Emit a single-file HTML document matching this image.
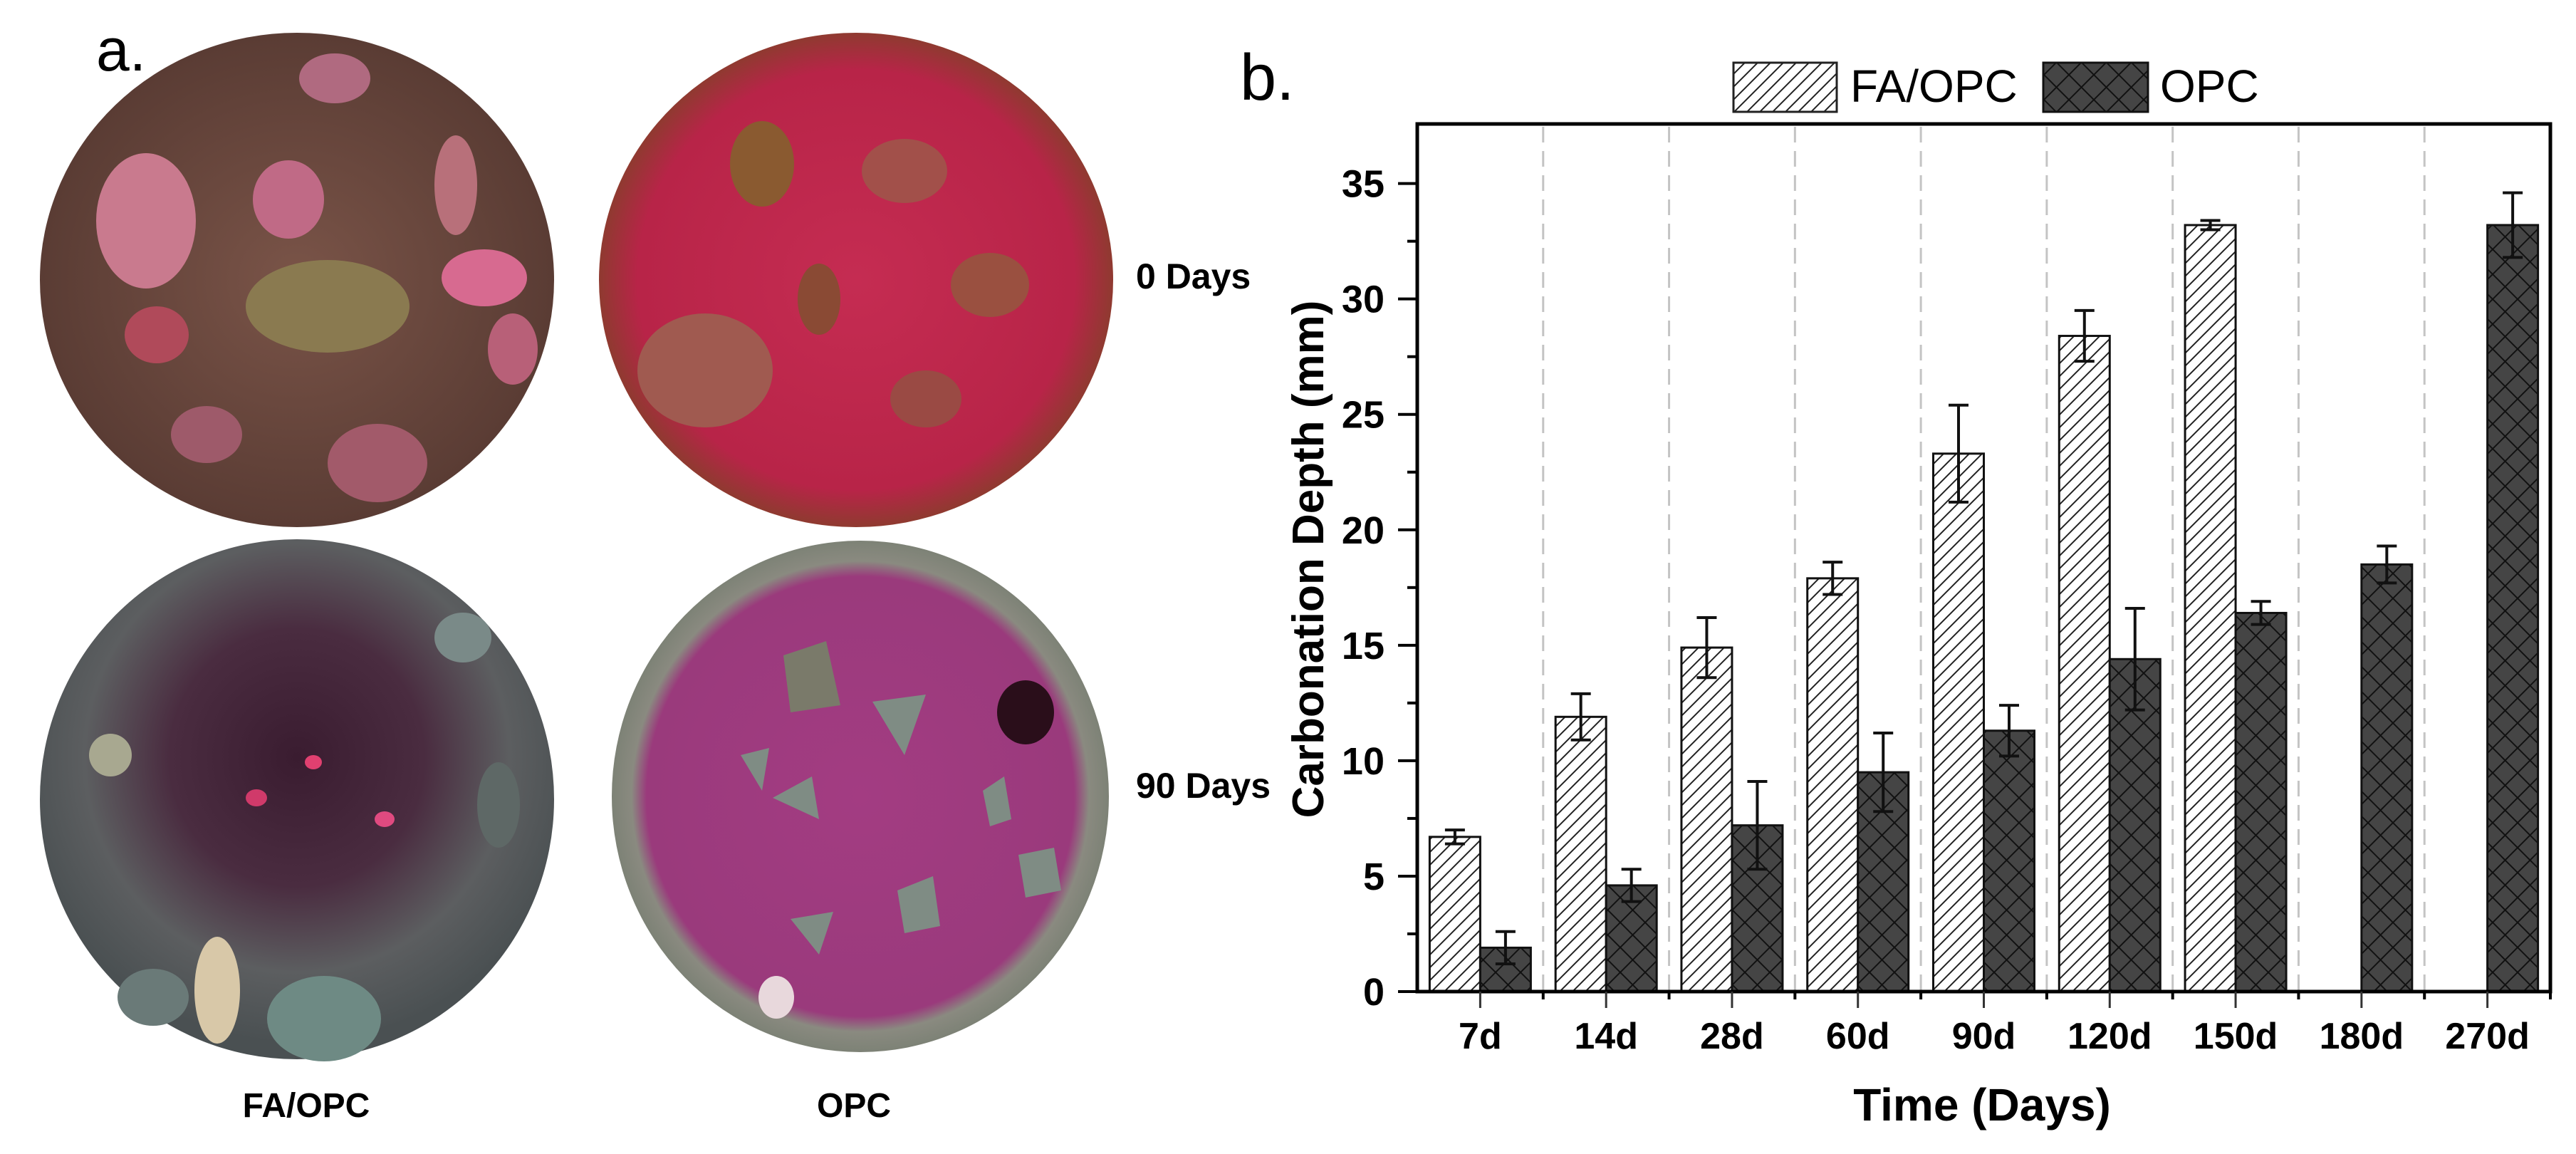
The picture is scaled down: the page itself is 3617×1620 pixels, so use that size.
<!DOCTYPE html>
<html><head><meta charset="utf-8"><style>
html,body{margin:0;padding:0;background:#fff;}
svg{display:block;font-family:"Liberation Sans",Arial,sans-serif;}
</style></head><body>
<svg id="fig" width="3617" height="1620" viewBox="0 0 3617 1620" xmlns="http://www.w3.org/2000/svg">
<defs>
<pattern id="hatchFA" patternUnits="userSpaceOnUse" width="18" height="18" patternTransform="rotate(0)">
<rect width="18" height="18" fill="#fff"/>
<path d="M0,18 L18,0 M-4,4 L4,-4 M14,22 L22,14" stroke="#222" stroke-width="2"/>
</pattern>
<pattern id="hatchOPC" patternUnits="userSpaceOnUse" width="35" height="35">
<rect width="35" height="35" fill="#454545"/>
<path d="M0,0 L35,35 M35,0 L0,35" stroke="#111" stroke-width="2"/>
</pattern>
<radialGradient id="g1" cx="50%" cy="50%" r="50%"><stop offset="0" stop-color="#7a5448"/><stop offset="1" stop-color="#5a3c34"/></radialGradient>
<radialGradient id="g2" cx="50%" cy="50%" r="50%"><stop offset="0" stop-color="#c52c52"/><stop offset="0.85" stop-color="#b82448"/><stop offset="1" stop-color="#8f3a30"/></radialGradient>
<radialGradient id="g3" cx="50%" cy="42%" r="55%"><stop offset="0" stop-color="#3a1c30"/><stop offset="0.45" stop-color="#4a2c40"/><stop offset="0.75" stop-color="#5c5e60"/><stop offset="1" stop-color="#4a5052"/></radialGradient>
<radialGradient id="g4" cx="50%" cy="50%" r="50%"><stop offset="0" stop-color="#a33c82"/><stop offset="0.86" stop-color="#9a3a7c"/><stop offset="0.92" stop-color="#8a8a80"/><stop offset="1" stop-color="#7d8276"/></radialGradient>
</defs>

<!-- Panel a -->
<g>
<text x="135" y="99" font-size="84" fill="#000">a.</text>
<g>
<ellipse cx="417" cy="393" rx="361" ry="347" fill="url(#g1)"/>
<ellipse cx="205" cy="310" rx="70" ry="95" fill="#c97a8e"/>
<ellipse cx="460" cy="430" rx="115" ry="65" fill="#8a7a50"/>
<ellipse cx="405" cy="280" rx="50" ry="55" fill="#c06a86"/>
<ellipse cx="680" cy="390" rx="60" ry="40" fill="#d76a90"/>
<ellipse cx="640" cy="260" rx="30" ry="70" fill="#b8707a"/>
<ellipse cx="220" cy="470" rx="45" ry="40" fill="#b04a5a"/>
<ellipse cx="530" cy="650" rx="70" ry="55" fill="#a25a6a"/>
<ellipse cx="290" cy="610" rx="50" ry="40" fill="#9e5a6a"/>
<ellipse cx="720" cy="490" rx="35" ry="50" fill="#b86078"/>
<ellipse cx="470" cy="110" rx="50" ry="35" fill="#b06a80"/>
</g>
<g>
<ellipse cx="1202" cy="393" rx="361" ry="347" fill="url(#g2)"/>
<ellipse cx="990" cy="520" rx="95" ry="80" fill="#a05a50"/>
<ellipse cx="1070" cy="230" rx="45" ry="60" fill="#8a5a30"/>
<ellipse cx="1270" cy="240" rx="60" ry="45" fill="#a2504a"/>
<ellipse cx="1390" cy="400" rx="55" ry="45" fill="#9a5040"/>
<ellipse cx="1150" cy="420" rx="30" ry="50" fill="#8a4a34"/>
<ellipse cx="1300" cy="560" rx="50" ry="40" fill="#9a4a44"/>
</g>
<g>
<ellipse cx="417" cy="1122" rx="361" ry="365" fill="url(#g3)"/>
<ellipse cx="305" cy="1390" rx="32" ry="75" fill="#d8c8a8"/>
<ellipse cx="455" cy="1430" rx="80" ry="60" fill="#6e8a84"/>
<ellipse cx="215" cy="1400" rx="50" ry="40" fill="#6a7a78"/>
<ellipse cx="650" cy="895" rx="40" ry="35" fill="#7a8a88"/>
<ellipse cx="155" cy="1060" rx="30" ry="30" fill="#a8a890"/>
<ellipse cx="700" cy="1130" rx="30" ry="60" fill="#5e6866"/>
<ellipse cx="440" cy="1070" rx="12" ry="10" fill="#e04070"/>
<ellipse cx="360" cy="1120" rx="15" ry="12" fill="#d03a6a"/>
<ellipse cx="540" cy="1150" rx="14" ry="11" fill="#e04a80"/>
</g>
<g>
<ellipse cx="1208" cy="1118" rx="349" ry="359" fill="url(#g4)"/>
<polygon points="1100,920 1160,900 1180,990 1110,1000" fill="#7a7a6a"/>
<polygon points="1225,985 1300,975 1270,1060" fill="#7f8c84"/>
<polygon points="1085,1120 1140,1090 1150,1150" fill="#7f8c84"/>
<polygon points="1260,1250 1310,1230 1320,1300 1270,1310" fill="#7f8c84"/>
<polygon points="1110,1290 1170,1280 1150,1340" fill="#7f8c84"/>
<polygon points="1430,1200 1480,1190 1490,1250 1440,1260" fill="#7f8c84"/>
<polygon points="1380,1110 1410,1090 1420,1150 1390,1160" fill="#7f8c84"/>
<ellipse cx="1440" cy="1000" rx="40" ry="45" fill="#2a0e1a"/>
<ellipse cx="1090" cy="1400" rx="25" ry="30" fill="#e8d8dc"/>
<polygon points="1040,1060 1080,1050 1070,1110" fill="#7f8c84"/>
</g>
<text x="1595" y="405" font-size="50" font-weight="bold" fill="#000">0 Days</text>
<text x="1595" y="1120" font-size="50" font-weight="bold" fill="#000">90 Days</text>
<text x="430" y="1568" font-size="48" font-weight="bold" fill="#000" text-anchor="middle">FA/OPC</text>
<text x="1199" y="1568" font-size="48" font-weight="bold" fill="#000" text-anchor="middle">OPC</text>
</g>

<!-- Panel b -->
<text x="1741" y="140" font-size="92" fill="#000">b.</text>
<g>
<rect x="2434" y="88" width="145" height="69" fill="url(#hatchFA)" stroke="#222" stroke-width="3"/>
<text x="2598" y="143" font-size="64" fill="#000">FA/OPC</text>
<rect x="2869" y="88" width="147" height="69" fill="url(#hatchOPC)" stroke="#111" stroke-width="3"/>
<text x="3033" y="143" font-size="64" fill="#000">OPC</text>
</g>
<g id="chart"></g>
<text x="2783" y="1573" font-size="64" font-weight="bold" fill="#000" text-anchor="middle">Time (Days)</text>
<text transform="translate(1858,785) rotate(-90)" font-size="62" font-weight="bold" fill="#000" text-anchor="middle">Carbonation Depth (mm)</text>
</svg>
<script>
const categories = ["7d","14d","28d","60d","90d","120d","150d","180d","270d"];
const faValues = [6.7, 11.9, 14.9, 17.9, 23.3, 28.4, 33.2, null, null];
const faErrors = [0.3, 1.0, 1.3, 0.7, 2.1, 1.1, 0.2, null, null];
const opcValues = [1.9, 4.6, 7.2, 9.5, 11.3, 14.4, 16.4, 18.5, 33.2];
const opcErrors = [0.7, 0.7, 1.9, 1.7, 1.1, 2.2, 0.5, 0.8, 1.4];
const yTicks = [0, 5, 10, 15, 20, 25, 30, 35];

const NS = "http://www.w3.org/2000/svg";
const L = 1990, R = 3581, T = 174, B = 1392;
const yMax = 37.58;
const catW = (R - L) / categories.length;
const y = v => B - v * (B - T) / yMax;
const xc = i => L + catW * (i + 0.5);
const barW = 71;
const g = document.getElementById("chart");
function mk(tag, attrs) {
  const e = document.createElementNS(NS, tag);
  for (const k in attrs) e.setAttribute(k, attrs[k]);
  g.appendChild(e);
  return e;
}
// grid
for (let i = 1; i < categories.length; i++) {
  const x = L + catW * i;
  const ln = mk("line", {x1: x, x2: x, y1: T + 4, y2: B, stroke: "#c4c4c4", "stroke-width": 3, "stroke-dasharray": "22 12"});
  
  
}
function bars(vals, errs, fill, side, name) {
  vals.forEach((v, i) => {
    if (v === null) return;
    const x0 = side < 0 ? xc(i) - barW : xc(i);
    const r = mk("rect", {x: x0, y: y(v), width: barW, height: B - y(v), fill: fill, stroke: "#111", "stroke-width": 3});
    
    
    const cx = x0 + barW / 2, e = errs[i];
    const eb = mk("path", {d: `M${cx},${y(v+e)}V${y(v-e)}M${cx-14},${y(v+e)}H${cx+14}M${cx-14},${y(v-e)}H${cx+14}`, stroke: "#111", "stroke-width": 4, fill: "none"});
    
    
  });
}
bars(faValues, faErrors, "url(#hatchFA)", -1, "fa-opc");
bars(opcValues, opcErrors, "url(#hatchOPC)", 1, "opc");
// axes frame
const fr = mk("rect", {x: L, y: T, width: R - L, height: B - T, fill: "none", stroke: "#000", "stroke-width": 5});


// y ticks
yTicks.forEach(t => {
  const tk = mk("line", {x1: L - 27, x2: L, y1: y(t), y2: y(t), stroke: "#000", "stroke-width": 4});
  
  
  const tx = mk("text", {x: 1944, y: y(t) + 19, "font-size": 54, "font-weight": "bold", "text-anchor": "end", fill: "#000"});
  tx.textContent = t;
  
  
  if (t < 35) {
    const mt = mk("line", {x1: L - 14, x2: L, y1: y(t + 2.5), y2: y(t + 2.5), stroke: "#000", "stroke-width": 4});
    
    
  }
});
// x ticks
categories.forEach((c, i) => {
  const tk = mk("line", {x1: xc(i), x2: xc(i), y1: B, y2: B + 23, stroke: "#333", "stroke-width": 3});
  
  
  const bt = mk("line", {x1: L + catW * (i + 1), x2: L + catW * (i + 1), y1: B, y2: B + 11, stroke: "#000", "stroke-width": 4});
  
  
  const tx = mk("text", {x: xc(i), y: 1472, "font-size": 52, "font-weight": "bold", "text-anchor": "middle", fill: "#000"});
  tx.textContent = c;
  
  
});
</script>
</body></html>
